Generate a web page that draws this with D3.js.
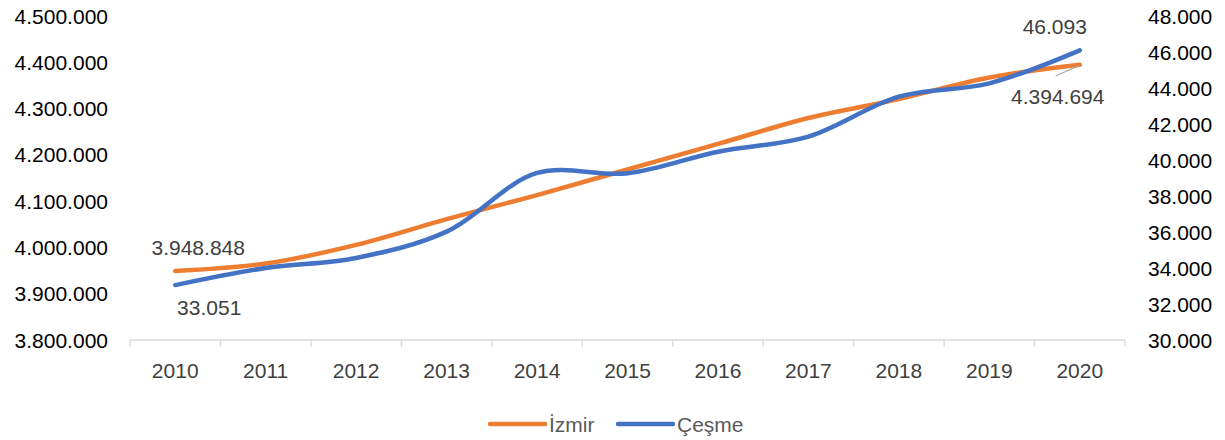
<html>
<head>
    <meta charset="utf-8">
    <title>İzmir - Çeşme</title>
    <script src="https://d3js.org/d3.v7.min.js"></script>
    <style>
        body { margin: 0; background: #fff; }
        text { font-family: "Liberation Sans", Arial, sans-serif; }
        .tick-label { font-size: 21px; fill: #000; }
        .x-label { font-size: 21px; fill: #404040; }
        .data-label { font-size: 21px; fill: #404040; }
        .legend { font-size: 21px; fill: #595959; }
    </style>
</head>
<body>
<div id="vis1"></div>
<script type="text/javascript">
    // Data ***********************
    var years = ["2010", "2011", "2012", "2013", "2014", "2015", "2016", "2017", "2018", "2019", "2020"];
    var izmir = [3948848, 3965232, 4005459, 4061074, 4113072, 4168415, 4223545, 4279677, 4320519, 4367251, 4394694];
    var cesme = [33051, 34000, 34560, 36020, 39280, 39260, 40460, 41300, 43520, 44260, 46093];
    var leftTicks = [3800000, 3900000, 4000000, 4100000, 4200000, 4300000, 4400000, 4500000];
    var rightTicks = [30000, 32000, 34000, 36000, 38000, 40000, 42000, 44000, 46000, 48000];
    var seriesNames = ["İzmir", "Çeşme"];
    var seriesColors = ["#ED7D31", "#4472C4"];

    var width = 1225, height = 440;
    var plot = {left: 130, right: 1125, top: 16, bottom: 340};

    var tr = d3.formatLocale({decimal: ",", thousands: ".", grouping: [3], currency: ["", ""]});
    var fmt = tr.format(",d");

    var svg = d3.select("#vis1").append("svg")
        .attr("width", width)
        .attr("height", height);

    // scales
    var x = d3.scaleBand().domain(years).range([plot.left, plot.right]);
    var yLeft = d3.scaleLinear().domain([3800000, 4500000]).range([plot.bottom, plot.top]);
    var yRight = d3.scaleLinear().domain([30000, 48000]).range([plot.bottom, plot.top]);
    function cx(d) { return x(d) + x.bandwidth() / 2; }

    // left axis labels
    svg.selectAll(".left-tick")
        .data(leftTicks)
        .enter().append("text")
        .attr("class", "tick-label")
        .attr("x", plot.left - 22)
        .attr("y", function(d) { return yLeft(d); })
        .attr("text-anchor", "end")
        .attr("dominant-baseline", "central")
        .text(function(d) { return fmt(d); });

    // right axis labels
    svg.selectAll(".right-tick")
        .data(rightTicks)
        .enter().append("text")
        .attr("class", "tick-label")
        .attr("x", plot.right + 23)
        .attr("y", function(d) { return yRight(d); })
        .attr("dominant-baseline", "central")
        .text(function(d) { return fmt(d); });

    // x axis line + ticks at category boundaries
    svg.append("line")
        .attr("x1", plot.left).attr("x2", plot.right)
        .attr("y1", plot.bottom).attr("y2", plot.bottom)
        .attr("stroke", "#d9d9d9").attr("stroke-width", 1.3);
    var bounds = years.map(function(d) { return x(d); }).concat([plot.right]);
    svg.selectAll(".xtick")
        .data(bounds)
        .enter().append("line")
        .attr("x1", function(d) { return d; }).attr("x2", function(d) { return d; })
        .attr("y1", plot.bottom).attr("y2", plot.bottom + 7)
        .attr("stroke", "#d9d9d9").attr("stroke-width", 1.3);
    svg.selectAll(".x-label")
        .data(years)
        .enter().append("text")
        .attr("class", "x-label")
        .attr("x", cx)
        .attr("y", plot.bottom + 30)
        .attr("text-anchor", "middle")
        .attr("dominant-baseline", "central")
        .text(function(d) { return d; });

    // lines
    function build_line(values, scale, color) {
        var line = d3.line()
            .x(function(d, i) { return cx(years[i]); })
            .y(function(d) { return scale(d); })
            .curve(d3.curveCatmullRom.alpha(0.5));
        svg.append("path")
            .datum(values)
            .attr("fill", "none")
            .attr("stroke", color)
            .attr("stroke-width", 4.5)
            .attr("stroke-linecap", "round")
            .attr("stroke-linejoin", "round")
            .attr("d", line);
    }
    build_line(izmir, yLeft, seriesColors[0]);
    build_line(cesme, yRight, seriesColors[1]);

    // data labels on first and last points
    var last = years.length - 1;
    function label(px, py, dx, dy, value) {
        svg.append("text")
            .attr("class", "data-label")
            .attr("x", px + dx)
            .attr("y", py + dy)
            .attr("text-anchor", "middle")
            .attr("dominant-baseline", "central")
            .text(fmt(value));
    }
    label(cx(years[0]), yLeft(izmir[0]), 23, -24, izmir[0]);
    label(cx(years[0]), yRight(cesme[0]), 34, 22, cesme[0]);
    label(cx(years[last]), yRight(cesme[last]), -25, -24, cesme[last]);
    label(cx(years[last]), yLeft(izmir[last]), -22, 32, izmir[last]);
    // leader line for the last İzmir label
    svg.append("line")
        .attr("x1", cx(years[last]) - 24).attr("y1", yLeft(izmir[last]) + 11)
        .attr("x2", cx(years[last]) - 1).attr("y2", yLeft(izmir[last]) + 1)
        .attr("stroke", "#a6a6a6").attr("stroke-width", 1.3);

    // legend
    var legendX = [490, 618];
    var legend = svg.selectAll(".legend-item")
        .data(seriesNames)
        .enter().append("g")
        .attr("transform", function(d, i) { return "translate(" + legendX[i] + ",424)"; });
    legend.append("line")
        .attr("x1", 0).attr("x2", 55)
        .attr("stroke", function(d, i) { return seriesColors[i]; })
        .attr("stroke-width", 4.5)
        .attr("stroke-linecap", "round");
    legend.append("text")
        .attr("class", "legend")
        .attr("x", 59)
        .attr("dominant-baseline", "central")
        .text(function(d) { return d; });
</script>
</body>
</html>
